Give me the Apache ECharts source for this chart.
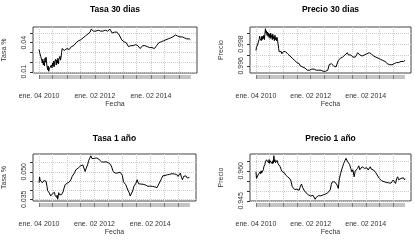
<!DOCTYPE html>
<html>
<head>
<meta charset="utf-8">
<script src="https://cdn.jsdelivr.net/npm/echarts@6/dist/echarts.min.js"></script>
<style>
html, body { margin: 0; padding: 0; background: #fff; }
#chart { width: 415px; height: 250px; }
</style>
</head>
<body>
<div id="chart"></div>
<script>
var fechas = [
  '2010-01-04','2010-01-11','2010-01-18','2010-01-25','2010-02-01','2010-02-08','2010-02-15','2010-02-22',
  '2010-03-01','2010-03-08','2010-03-15','2010-03-22','2010-03-29','2010-04-05','2010-04-12','2010-04-19',
  '2010-04-26','2010-05-03','2010-05-10','2010-05-17','2010-05-24','2010-05-31','2010-06-07','2010-06-14',
  '2010-06-21','2010-06-28','2010-07-05','2010-07-12','2010-07-19','2010-07-26','2010-08-02','2010-08-09',
  '2010-08-16','2010-08-23','2010-08-30','2010-09-06','2010-09-13','2010-09-20','2010-09-27','2010-10-04',
  '2010-10-11','2010-10-18','2010-10-25','2010-11-01','2010-11-08','2010-11-15','2010-11-22','2010-11-29',
  '2010-12-06','2010-12-13','2010-12-20',
  '2011-01-03','2011-01-17','2011-02-01','2011-02-15','2011-03-01','2011-03-15','2011-04-01','2011-04-15',
  '2011-05-02','2011-05-16','2011-06-01','2011-06-15','2011-07-01','2011-07-15','2011-08-01','2011-08-15',
  '2011-09-01','2011-09-15','2011-10-03','2011-10-17','2011-11-01','2011-11-15','2011-12-01','2011-12-15',
  '2012-01-02','2012-01-16','2012-02-01','2012-02-15','2012-03-01','2012-03-15','2012-04-02','2012-04-16',
  '2012-05-02','2012-05-16','2012-06-01','2012-06-15','2012-07-02','2012-07-16','2012-08-01','2012-08-15',
  '2012-09-03','2012-09-17','2012-10-01','2012-10-15','2012-11-01','2012-11-15','2012-12-03','2012-12-17',
  '2013-01-02','2013-01-16','2013-02-01','2013-02-15','2013-03-01','2013-03-15','2013-04-01','2013-04-15',
  '2013-05-02','2013-05-16','2013-06-03','2013-06-17','2013-07-01','2013-07-15','2013-08-01','2013-08-15',
  '2013-09-02','2013-09-16','2013-10-01','2013-10-15','2013-11-01','2013-11-15','2013-12-02','2013-12-16',
  '2014-01-02','2014-01-16','2014-02-03','2014-02-17','2014-03-03','2014-03-17','2014-04-01','2014-04-15',
  '2014-05-02','2014-05-16','2014-06-02','2014-06-16','2014-07-01','2014-07-15','2014-08-01','2014-08-15',
  '2014-09-01','2014-09-15','2014-10-01','2014-10-15','2014-11-03','2014-11-17','2014-12-01','2014-12-15',
  '2015-01-02','2015-01-16','2015-02-02','2015-02-16','2015-03-02','2015-03-16','2015-04-01','2015-04-15',
  '2015-05-04','2015-05-18','2015-06-01','2015-06-08'
];

var tasa30 = [
  .033,.030,.031,.026,.028,.022,.019,.023,.017,.021,.016,.024,.020,.025,.019,.015,.012,.016,.0105,.013,
  .011,.015,.013,.017,.014,.019,.016,.021,.015,.020,.018,.023,.017,.022,.019,.024,.018,.023,.021,.026,
  .022,.025,.030,.034,.036,.033,.035,.032,.034,.033,.032,
  .034,.032,.033,.034,.036,.035,.037,.038,.040,.039,.042,.041,.043,.042,.045,.044,.047,.046,.049,.048,.051,.054,.0545,.052,
  .053,.052,.052,.053,.052,.052,.053,.052,.053,.053,.053,.052,.053,.054,.054,.050,.049,.051,.050,.051,.049,.048,.047,.043,
  .042,.041,.040,.040,.038,.036,.035,.037,.038,.037,.039,.038,.039,.037,.038,.034,.036,.037,.035,.037,.036,.036,.035,.035,
  .036,.035,.034,.034,.035,.037,.038,.040,.041,.041,.042,.042,.043,.043,.043,.044,.044,.045,.046,.046,.047,.048,.048,.047,
  .046,.046,.045,.046,.045,.045,.045,.044,.044,.044,.043,.043
];

var precio30 = [
  .9974,.9977,.9976,.9979,.9981,.9980,.9984,.9987,.9985,.9986,.9983,.9987,.9984,.9987,.9985,.9988,.9984,.9989,.9994,.9990,
  .9992,.9988,.9991,.9987,.9990,.9986,.9989,.9985,.9990,.9986,.9988,.9984,.9989,.9985,.9987,.9983,.9988,.9984,.9986,.9983,
  .9986,.9984,.9980,.9976,.9973,.9972,.9974,.9972,.9973,.9971,.9972,
  .9973,.9972,.9973,.9972,.9971,.9971,.9969,.9968,.9967,.9966,.9965,.9964,.9963,.9962,.9962,.9960,.9960,.9959,.9958,.9958,.9957,.9956,.9955,.9956,
  .9957,.9957,.9958,.9957,.9957,.9956,.9957,.9956,.9956,.9956,.9956,.9955,.9956,.9955,.9955,.9956,.9961,.9960,.9962,.9961,.9960,.9961,.9959,.9960,
  .9965,.9966,.9967,.9967,.9968,.9969,.9970,.9971,.9972,.9970,.9969,.9970,.9969,.9968,.9969,.9968,.9970,.9972,.9972,.9970,.9969,.9969,.9970,.9970,
  .9970,.9971,.9971,.9972,.9972,.9971,.9970,.9969,.9969,.9968,.9967,.9967,.9966,.9966,.9965,.9965,.9964,.9964,.9963,.9962,.9962,.9961,.9961,.9961,
  .9962,.9962,.9962,.9963,.9963,.9963,.9963,.9964,.9964,.9964,.9964,.9965
];

var tasa1 = [
  .0440,.0472,.0455,.0462,.0448,.0452,.0440,.0446,.0436,.0452,.0458,.0447,.0453,.0449,.0442,.0420,.0398,.0405,.0390,.0385,
  .0375,.0380,.0368,.0375,.0372,.0380,.0376,.0385,.0378,.0388,.0372,.0368,.0378,.0360,.0372,.0350,.0368,.0386,.0375,.0370,
  .0382,.0368,.0375,.0385,.0378,.0390,.0400,.0412,.0421,.0430,.0425,
  .0435,.0440,.0443,.0448,.0460,.0475,.0480,.0495,.0511,.0515,.0520,.0529,.0532,.0535,.0538,.0528,.0502,.0520,.0538,.0561,.0575,.0588,.0572,.0578,
  .0574,.0570,.0576,.0579,.0568,.0565,.0555,.0558,.0553,.0556,.0555,.0552,.0550,.0547,.0540,.0525,.0502,.0495,.0493,.0490,.0494,.0492,.0498,.0502,
  .0480,.0445,.0439,.0430,.0421,.0400,.0386,.0368,.0377,.0395,.0421,.0430,.0439,.0457,.0435,.0430,.0433,.0428,.0432,.0426,.0428,.0424,.0421,.0425,
  .0422,.0426,.0420,.0424,.0418,.0415,.0413,.0425,.0439,.0450,.0465,.0478,.0484,.0480,.0486,.0484,.0490,.0486,.0492,.0490,.0493,.0488,.0493,.0486,
  .0475,.0482,.0493,.0470,.0457,.0475,.0484,.0478,.0466,.0475,.0470,.0472
];

var precio1 = [
  .9595,.9562,.9557,.9565,.9579,.9572,.9587,.9580,.9595,.9585,.9600,.9590,.9598,.9592,.9605,.9620,.9615,.9632,.9645,.9638,
  .9655,.9648,.9662,.9650,.9640,.9656,.9637,.9650,.9654,.9642,.9648,.9635,.9650,.9638,.9675,.9645,.9655,.9640,.9648,.9640,
  .9652,.9645,.9635,.9640,.9628,.9632,.9620,.9612,.9605,.9598,.9595,
  .9587,.9590,.9579,.9582,.9570,.9566,.9560,.9548,.9520,.9512,.9507,.9505,.9508,.9506,.9503,.9520,.9534,.9518,.9504,.9495,.9490,.9484,.9480,.9476,
  .9474,.9470,.9478,.9475,.9458,.9468,.9470,.9476,.9479,.9475,.9483,.9480,.9487,.9484,.9486,.9490,.9495,.9505,.9532,.9545,.9540,.9545,.9538,.9529,
  .9512,.9560,.9585,.9604,.9620,.9637,.9650,.9662,.9648,.9642,.9630,.9612,.9595,.9605,.9570,.9598,.9604,.9612,.9625,.9605,.9612,.9620,.9615,.9612,
  .9605,.9615,.9604,.9612,.9620,.9608,.9615,.9604,.9600,.9590,.9579,.9570,.9562,.9554,.9550,.9548,.9546,.9545,.9542,.9545,.9540,.9542,.9538,.9546,
  .9554,.9548,.9537,.9560,.9570,.9555,.9546,.9562,.9558,.9565,.9555,.9560
];

// fechas con etiqueta en el eje x y rejilla semestral
var marcasX = ['2010-01-04', '2012-01-02', '2014-01-02'];
var rejillaX = ['2010-01-04','2010-07-01','2011-01-03','2011-07-01','2012-01-02','2012-07-02',
                '2013-01-02','2013-07-01','2014-01-02','2014-07-01','2015-01-02'];

var ticks30 = [0.01, 0.02, 0.03, 0.04, 0.05];
var etiq30 = [0.01, 0.04];
var ticksP30 = [0.996, 0.997, 0.998, 0.999];
var etiqP30 = [0.996, 0.998];
var ticks1 = [0.035, 0.040, 0.045, 0.050, 0.055];
var etiq1 = [0.035, 0.050];
var ticksP1 = [0.945, 0.950, 0.955, 0.960, 0.965];
var etiqP1 = [0.945, 0.960];

var meses = ['ene.','feb.','mar.','abr.','may.','jun.','jul.','ago.','sep.','oct.','nov.','dic.'];

function ts(s) {
  var p = s.split('-');
  return new Date(+p[0], +p[1] - 1, +p[2]).getTime();
}

var paneles = [
  { titulo: 'Tasa 30 dias', eje: 'Tasa %', valores: tasa30, ticks: ticks30, etiq: etiq30, dec: 2 },
  { titulo: 'Precio 30 dias', eje: 'Precio', valores: precio30, ticks: ticksP30, etiq: etiqP30, dec: 3 },
  { titulo: 'Tasa 1 año', eje: 'Tasa %', valores: tasa1, ticks: ticks1, etiq: etiq1, dec: 3 },
  { titulo: 'Precio 1 año', eje: 'Precio', valores: precio1, ticks: ticksP1, etiq: etiqP1, dec: 3 }
];

// caja de cada panel: left, top, width, height, top del título
var cajas = [
  [33, 27, 164, 46, 5],
  [250, 27, 161, 46, 5],
  [33, 154, 163, 47, 134],
  [250, 154, 161, 47, 134]
];

var fuente = 'Liberation Sans, Arial, Helvetica, sans-serif';
var t0 = ts(fechas[0]);
var t1 = ts(fechas[fechas.length - 1]);
var padX = (t1 - t0) * 0.04;
var rejillaTs = rejillaX.map(ts);
var marcasTs = marcasX.map(ts);

function fmtFecha(v) {
  var d = new Date(v);
  var dd = d.getDate() < 10 ? '0' + d.getDate() : '' + d.getDate();
  return meses[d.getMonth()] + ' ' + dd + ' ' + d.getFullYear();
}

var option = {
  animation: false,
  backgroundColor: '#fff',
  title: [],
  grid: [],
  xAxis: [],
  yAxis: [],
  series: []
};

paneles.forEach(function (p, i) {
  var c = cajas[i];
  var lo = Math.min.apply(null, p.valores);
  var hi = Math.max.apply(null, p.valores);
  var padY = (hi - lo) * 0.04;

  option.title.push({
    text: p.titulo,
    left: c[0] + c[2] / 2,
    top: c[4],
    textAlign: 'center',
    padding: 0,
    textStyle: { fontSize: 8.5, fontWeight: 'bold', color: '#000', fontFamily: fuente }
  });

  // caja principal
  option.grid.push({
    left: c[0], top: c[1], width: c[2], height: c[3],
    show: true, borderColor: '#444', borderWidth: 1, backgroundColor: 'transparent'
  });
  // banda gris bajo el eje x
  option.grid.push({
    left: c[0] + c[2] * 0.04 / 1.08, top: c[1] + c[3] + 2, width: c[2] / 1.08, height: 4,
    show: true, backgroundColor: '#c4c4c4', borderWidth: 0
  });

  option.xAxis.push({
    gridIndex: 2 * i,
    type: 'value',
    min: t0 - padX,
    max: t1 + padX,
    axisLine: { show: false },
    axisTick: { show: false, customValues: rejillaTs },
    splitLine: { show: true, lineStyle: { color: '#cccccc', type: 'dotted', width: 1 } },
    axisLabel: {
      customValues: marcasTs, formatter: fmtFecha, margin: 20,
      fontSize: 7, color: '#333', fontFamily: fuente
    },
    name: 'Fecha',
    nameLocation: 'middle',
    nameGap: 28,
    nameTextStyle: { fontSize: 7, color: '#333', fontFamily: fuente }
  });
  option.xAxis.push({
    gridIndex: 2 * i + 1,
    type: 'value',
    min: t0,
    max: t1,
    axisLine: { show: false },
    axisTick: { show: false, customValues: rejillaTs },
    axisLabel: { show: false },
    splitLine: { show: true, lineStyle: { color: '#7a7a7a', width: 1 } }
  });

  option.yAxis.push({
    gridIndex: 2 * i,
    type: 'value',
    min: lo - padY,
    max: hi + padY,
    axisLine: { show: false },
    axisTick: { show: true, length: 3, customValues: p.ticks, lineStyle: { color: '#333' } },
    splitLine: { show: true, lineStyle: { color: '#cccccc', type: 'dotted', width: 1 } },
    axisLabel: {
      customValues: p.etiq, rotate: 90, margin: 5,
      fontSize: 7, color: '#333', fontFamily: fuente,
      formatter: (function (d) { return function (v) { return v.toFixed(d); }; })(p.dec)
    },
    name: p.eje,
    nameLocation: 'middle',
    nameGap: 25,
    nameTextStyle: { fontSize: 7, color: '#333', fontFamily: fuente }
  });
  option.yAxis.push({
    gridIndex: 2 * i + 1,
    type: 'value',
    show: false
  });

  option.series.push({
    type: 'line',
    xAxisIndex: 2 * i,
    yAxisIndex: 2 * i,
    showSymbol: false,
    symbol: 'none',
    lineStyle: { color: '#000', width: 1 },
    data: fechas.map(function (f, k) { return [ts(f), p.valores[k]]; })
  });
});

var myChart = echarts.init(document.getElementById('chart'));
myChart.setOption(option);
</script>
</body>
</html>
